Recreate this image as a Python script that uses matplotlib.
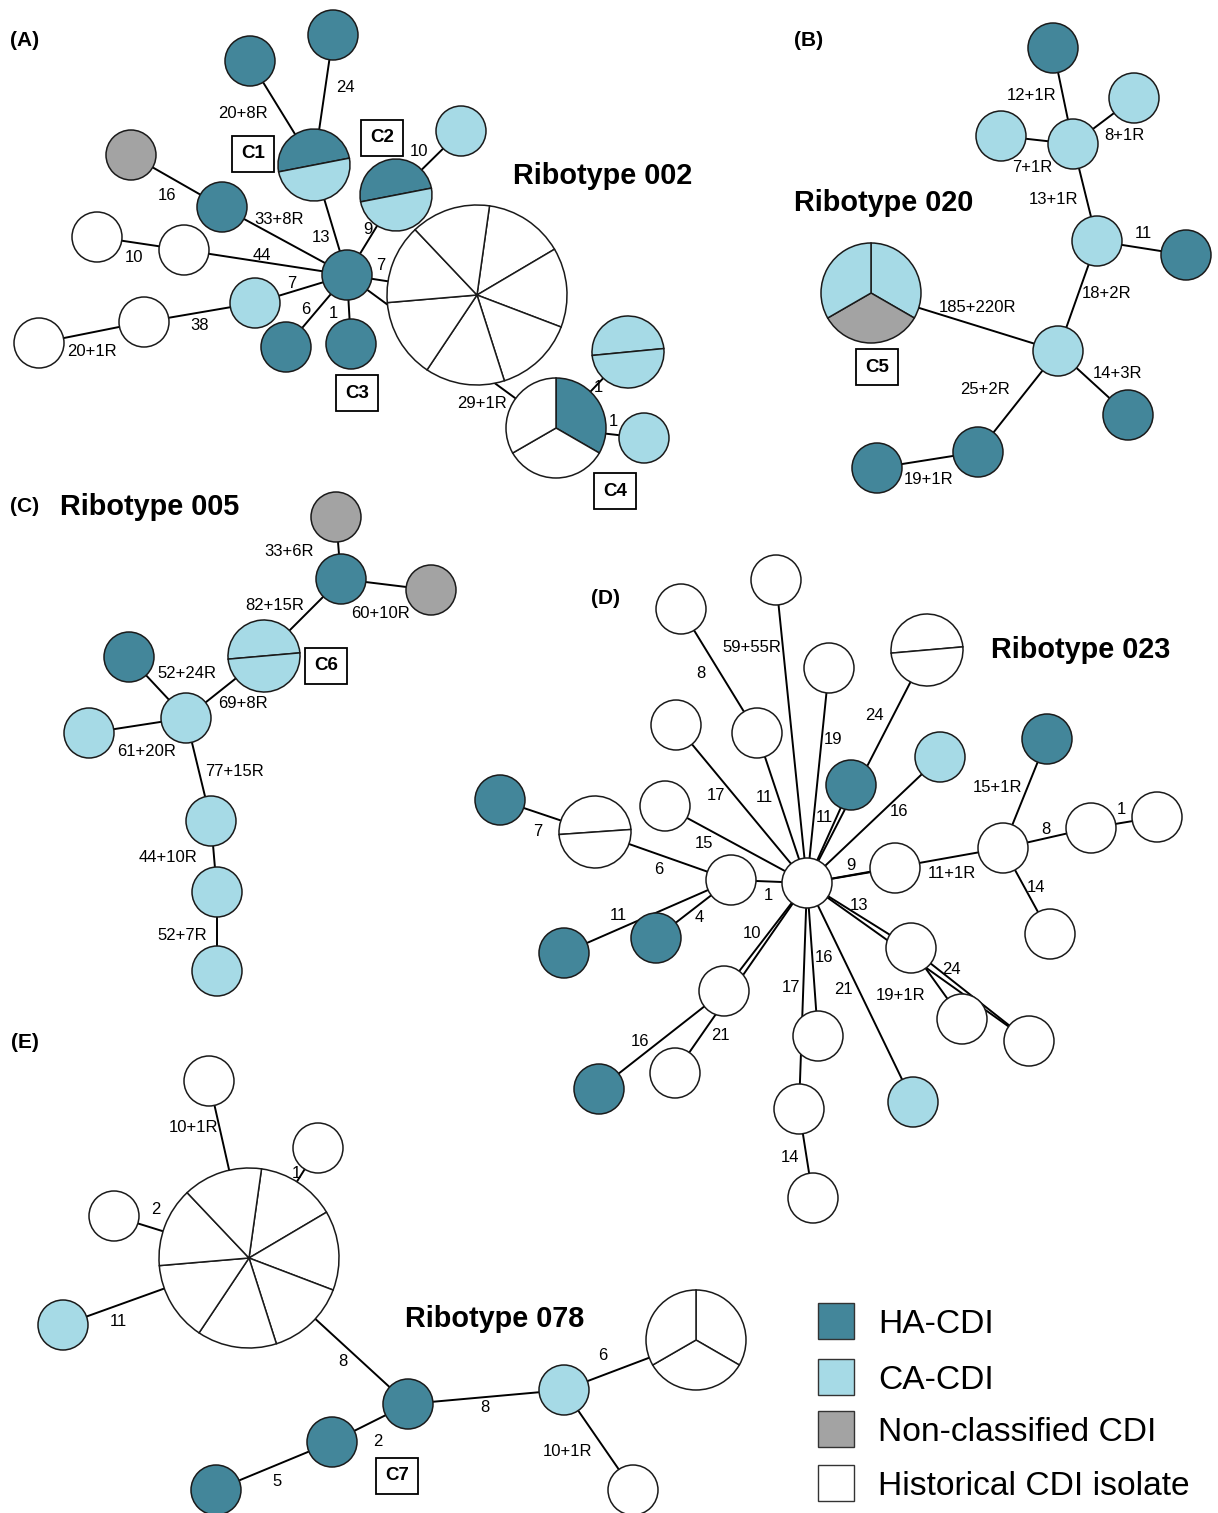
import matplotlib.pyplot as plt
from matplotlib.patches import Circle, Wedge, Rectangle

plt.rcParams['font.family'] = ['Liberation Sans', 'DejaVu Sans']

# isolate source categories
categories = ['HA-CDI', 'CA-CDI', 'Non-classified CDI', 'Historical CDI isolate']
cat_codes = ['H', 'C', 'N', 'W']
cat_colors = ['#43869a', '#a6dae6', '#a3a3a3', '#ffffff']

# ---- ribotype 002: one string per node, one letter per isolate ----
rt002_nodes = ['H', 'H', 'HC', 'N', 'H', 'W', 'W', 'H', 'C', 'W', 'W', 'H', 'H',
               'HC', 'C', 'WWWWWWW', 'HWW', 'CC', 'C']
rt002_edges = [(0, 2, '24'), (1, 2, '20+8R'), (2, 7, '13'), (3, 4, '16'),
               (4, 7, '33+8R'), (5, 6, '10'), (6, 7, '44'), (8, 7, '7'),
               (9, 8, '38'), (10, 9, '20+1R'), (11, 7, '6'), (12, 7, '1'),
               (7, 13, '9'), (13, 14, '10'), (7, 15, '7'), (7, 16, '29+1R'),
               (16, 17, '1'), (16, 18, '1')]
rt002_clusters = ['C1', 'C2', 'C3', 'C4']

# ---- ribotype 020 ----
rt020_nodes = ['H', 'C', 'C', 'C', 'C', 'H', 'CNC', 'C', 'H', 'H', 'H']
rt020_edges = [(0, 3, '12+1R'), (1, 3, '8+1R'), (2, 3, '7+1R'), (3, 4, '13+1R'),
               (4, 5, '11'), (4, 7, '18+2R'), (6, 7, '185+220R'), (7, 8, '14+3R'),
               (7, 9, '25+2R'), (9, 10, '19+1R')]
rt020_clusters = ['C5']

# ---- ribotype 005 ----
rt005_nodes = ['N', 'H', 'N', 'CC', 'H', 'C', 'C', 'C', 'C', 'C']
rt005_edges = [(0, 1, '33+6R'), (1, 2, '60+10R'), (1, 3, '82+15R'), (3, 5, '69+8R'),
               (4, 5, '52+24R'), (6, 5, '61+20R'), (5, 7, '77+15R'), (7, 8, '44+10R'),
               (8, 9, '52+7R')]
rt005_clusters = ['C6']

# ---- ribotype 023 ----
rt023_nodes = ['W', 'W', 'W', 'WW', 'W', 'W', 'H', 'C', 'H', 'H', 'WW', 'W', 'W',
               'W', 'W', 'W', 'W', 'W', 'W', 'H', 'H', 'W', 'W', 'W', 'W', 'W',
               'H', 'W', 'W', 'W', 'C']
rt023_edges = [(0, 5, '8'), (5, 13, '11'), (1, 13, '59+55R'), (2, 13, '19'),
               (13, 3, '24'), (6, 13, '11'), (7, 13, '16'), (4, 13, '17'),
               (11, 13, '15'), (9, 10, '7'), (10, 12, '6'), (12, 13, '1'),
               (19, 12, '4'), (20, 12, '11'), (13, 14, '9'), (13, 15, '11+1R'),
               (8, 15, '15+1R'), (15, 16, '8'), (16, 17, '1'), (15, 18, '14'),
               (13, 21, '13'), (21, 22, '19+1R'), (21, 23, '24'), (13, 23, ''),
               (13, 24, '10'), (24, 26, '16'), (13, 25, '21'), (13, 27, '16'),
               (13, 28, '17'), (28, 29, '14'), (13, 30, '21')]

# ---- ribotype 078 ----
rt078_nodes = ['W', 'W', 'W', 'WWWWWWW', 'C', 'H', 'H', 'H', 'C', 'WWW', 'W']
rt078_edges = [(0, 3, '10+1R'), (1, 3, '1'), (2, 3, '2'), (4, 3, '11'), (3, 5, '8'),
               (5, 8, '8'), (5, 6, '2'), (6, 7, '5'), (8, 9, '6'), (8, 10, '10+1R')]
rt078_clusters = ['C7']

# ---------------- layout (pixel coordinates) ----------------
rt002_xy = [(333, 35), (250, 61), (314, 165), (131, 155), (222, 207), (97, 237),
            (184, 250), (347, 275), (255, 303), (144, 322), (39, 343), (286, 347),
            (351, 344), (396, 195), (461, 131), (477, 295), (556, 428), (628, 352),
            (644, 438)]
rt002_lab = [(345, 88), (243, 113), (321, 237), (167, 195), (279, 219), (134, 258),
             (262, 256), (292, 284), (200, 326), (92, 352), (306, 309), (333, 313),
             (368, 230), (419, 152), (381, 266), (482, 403), (598, 387), (613, 422)]
rt002_ang = {2: 191, 13: 191, 15: 82, 16: 90, 17: 185.5}
rt002_box = [(253, 154), (382, 138), (357, 393), (615, 491)]

rt020_xy = [(1053, 48), (1134, 98), (1001, 136), (1073, 144), (1097, 241), (1186, 255),
            (871, 293), (1058, 351), (1128, 415), (978, 452), (877, 468)]
rt020_lab = [(1032, 96), (1124, 135), (1032, 168), (1054, 199), (1143, 234), (1107, 293),
             (978, 308), (1117, 374), (985, 390), (929, 480)]
rt020_ang = {6: 90}
rt020_box = [(877, 367)]

rt005_xy = [(336, 517), (341, 579), (431, 590), (264, 656), (129, 657), (186, 718),
            (89, 733), (211, 821), (217, 892), (217, 971)]
rt005_lab = [(289, 552), (381, 614), (275, 605), (243, 703), (187, 674), (147, 751),
             (235, 772), (168, 858), (182, 936)]
rt005_ang = {3: 185}
rt005_box = [(326, 666)]

rt023_xy = [(681, 609), (776, 580), (829, 668), (927, 650), (676, 725), (757, 733),
            (851, 785), (940, 757), (1047, 739), (500, 800), (595, 832), (665, 806),
            (731, 880), (807, 883), (895, 868), (1003, 848), (1091, 828), (1157, 817),
            (1050, 934), (656, 938), (564, 953), (911, 948), (962, 1019), (1029, 1041),
            (724, 991), (675, 1073), (599, 1089), (818, 1036), (799, 1109), (813, 1198),
            (913, 1102)]
rt023_lab = [(701, 673), (764, 798), (752, 648), (833, 739), (874, 716), (824, 818),
             (899, 812), (716, 796), (704, 843), (538, 831), (659, 870), (768, 896),
             (699, 918), (618, 916), (851, 865), (952, 874), (997, 788), (1046, 829),
             (1121, 810), (1036, 888), (859, 906), (901, 996), (951, 969), None,
             (752, 934), (640, 1041), (720, 1036), (824, 957), (791, 987), (790, 1157),
             (843, 989)]
rt023_ang = {3: 185, 10: 184}

rt078_xy = [(209, 1081), (318, 1148), (114, 1216), (249, 1258), (63, 1325), (408, 1404),
            (332, 1442), (216, 1490), (564, 1390), (696, 1340), (633, 1490)]
rt078_lab = [(193, 1127), (296, 1173), (156, 1210), (118, 1322), (343, 1362), (485, 1407),
             (378, 1441), (277, 1482), (603, 1355), (567, 1452)]
rt078_ang = {3: 82, 9: 90}
rt078_box = [(397, 1476)]

node_radius = {1: 25, 2: 36, 3: 50, 7: 90}
colour = dict(zip(cat_codes, cat_colors))
outline = '#1a1a1a'

fig = plt.figure(figsize=(12.18, 15.13), dpi=100)
ax = fig.add_axes([0, 0, 1, 1])
ax.set_xlim(0, 1218)
ax.set_ylim(1513, 0)
ax.axis('off')


def draw_network(nodes, edges, xy, lab, ang):
    for (a, b, txt), pos in zip(edges, lab):
        (x0, y0), (x1, y1) = xy[a], xy[b]
        ax.plot([x0, x1], [y0, y1], color='black', lw=1.4, zorder=1)
        if txt:
            ax.text(pos[0], pos[1], txt, fontsize=12, ha='center', va='center', zorder=5)
    for i, (iso, (x, y)) in enumerate(zip(nodes, xy)):
        n = len(iso)
        r = node_radius[n]
        if n == 1:
            ax.add_patch(Circle((x, y), r, fc=colour[iso], ec=outline, lw=1.1, zorder=2))
            continue
        # slices go clockwise from the start angle; y is flipped so angles are negated
        a0 = ang.get(i, 90)
        step = 360 / n
        for k, c in enumerate(iso):
            t2 = a0 - k * step
            t1 = t2 - step
            ax.add_patch(Wedge((x, y), r, -t2, -t1, fc=colour[c], ec=outline,
                               lw=1.1, zorder=2))


def cluster_boxes(names, pos):
    for name, (x, y) in zip(names, pos):
        ax.text(x, y, name, fontsize=13.5, fontweight='bold', ha='center', va='center',
                zorder=6, bbox=dict(boxstyle='square,pad=0.5', fc='white',
                                    ec='black', lw=1.3))


draw_network(rt002_nodes, rt002_edges, rt002_xy, rt002_lab, rt002_ang)
draw_network(rt020_nodes, rt020_edges, rt020_xy, rt020_lab, rt020_ang)
draw_network(rt005_nodes, rt005_edges, rt005_xy, rt005_lab, rt005_ang)
draw_network(rt023_nodes, rt023_edges, rt023_xy, rt023_lab, rt023_ang)
draw_network(rt078_nodes, rt078_edges, rt078_xy, rt078_lab, rt078_ang)

cluster_boxes(rt002_clusters, rt002_box)
cluster_boxes(rt020_clusters, rt020_box)
cluster_boxes(rt005_clusters, rt005_box)
cluster_boxes(rt078_clusters, rt078_box)

# panel letters and ribotype titles
for txt, x, y in [('(A)', 25, 40), ('(B)', 809, 40), ('(C)', 25, 506),
                  ('(D)', 605, 598), ('(E)', 25, 1043)]:
    ax.text(x, y, txt, fontsize=15, fontweight='bold', ha='center', va='center')
for txt, x, y in [('Ribotype 002', 603, 176), ('Ribotype 020', 884, 203),
                  ('Ribotype 005', 150, 507), ('Ribotype 023', 1081, 650),
                  ('Ribotype 078', 495, 1319)]:
    ax.text(x, y, txt, fontsize=20.8, fontweight='bold', ha='center', va='center')

# legend
leg_y = [1321, 1377, 1429, 1483]
for name, c, y in zip(categories, cat_colors, leg_y):
    ax.add_patch(Rectangle((817.5, y - 18.25), 36.5, 36.5, fc=c, ec='#333333', lw=1.0))
    ax.text(878, y, name, fontsize=24.2, ha='left', va='center_baseline')

fig.savefig('out.png', dpi=100)
